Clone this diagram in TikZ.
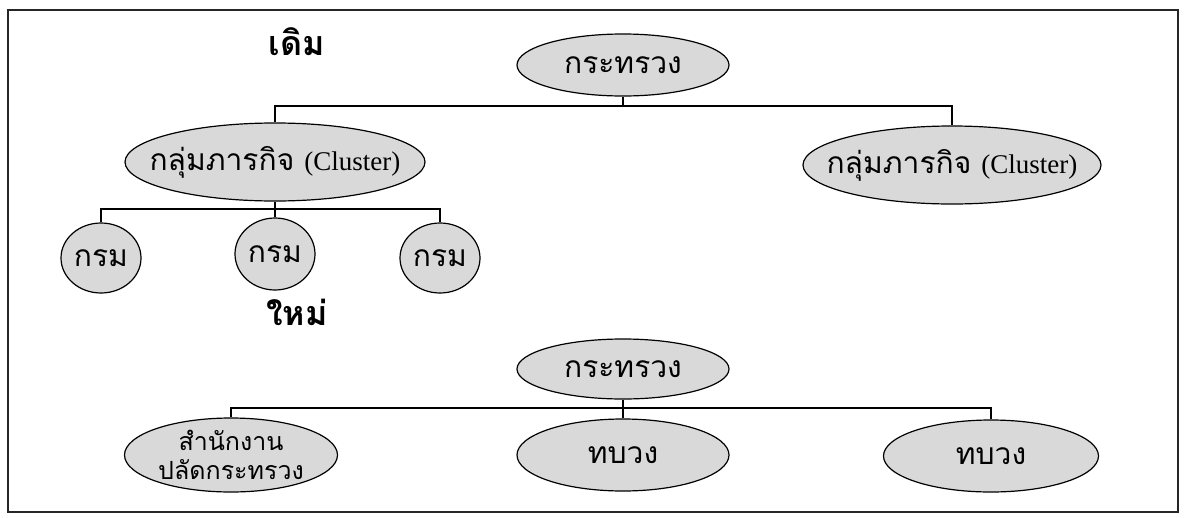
\documentclass[tikz,border=0pt]{standalone}
\usepackage{fontspec}
\newfontfamily\thaifont[Script=Thai]{Loma}
\newfontfamily\latfont{Liberation Serif}
\usetikzlibrary{shapes.geometric}

\begin{document}
\begin{tikzpicture}[x=1pt,y=-1pt,unit/.style={ellipse,draw,line width=1.2pt,fill=gray!30,inner sep=0pt,font=\thaifont\fontsize{30}{32}\selectfont},wide/.style={inner xsep=-50pt},link/.style={line width=1.2pt},era/.style={font=\thaifont\bfseries\fontsize{34}{36}\selectfont}]
\useasboundingbox (0,0) rectangle (1184,517);
\draw[line width=1.1pt,black!85] (8,10) rectangle (1178,512);
% old structure
\node[era] (old) at (297,42) {เดิม};
\node[unit,minimum width=212pt,minimum height=62pt] (minA) at (623,65) {กระทรวง};
\node[unit,wide,minimum width=300pt,minimum height=78pt] (clusL) at (275,162) {กลุ่มภารกิจ {\latfont\fontsize{27}{30}\selectfont(Cluster)}};
\node[unit,wide,minimum width=298pt,minimum height=78pt] (clusR) at (952,165) {กลุ่มภารกิจ {\latfont\fontsize{27}{30}\selectfont(Cluster)}};
\node[unit,minimum width=80pt,minimum height=70pt] (deptA) at (101,258) {กรม};
\node[unit,minimum width=80pt,minimum height=72pt] (deptB) at (275,254) {กรม};
\node[unit,minimum width=80pt,minimum height=70pt] (deptC) at (440,258) {กรม};
\coordinate (busA) at (623,106);
\coordinate (busB) at (275,209);
\draw[link] (minA.south) -- (busA) -| (clusL.north);
\draw[link] (busA) -| (clusR.north);
\draw[link] (clusL.south) -- (busB) -| (deptA.north);
\draw[link] (busB) -- (deptB.north);
\draw[link] (busB) -| (deptC.north);
% new structure
\node[era] (new) at (297,312) {ใหม่};
\node[unit,minimum width=212pt,minimum height=60pt] (minB) at (623,369) {กระทรวง};
\node[unit,wide,minimum width=213pt,minimum height=74pt,align=center,font=\thaifont\fontsize{25}{29}\selectfont] (office) at (231,455) {สำนักงาน\\ปลัดกระทรวง};
\node[unit,minimum width=212pt,minimum height=72pt] (bureauA) at (623,455) {ทบวง};
\node[unit,minimum width=215pt,minimum height=72pt] (bureauB) at (991,456) {ทบวง};
\coordinate (busC) at (623,408);
\draw[link] (minB.south) -- (busC) -| (office.north);
\draw[link] (busC) -- (bureauA.north);
\draw[link] (busC) -| (bureauB.north);
\end{tikzpicture}
\end{document}
